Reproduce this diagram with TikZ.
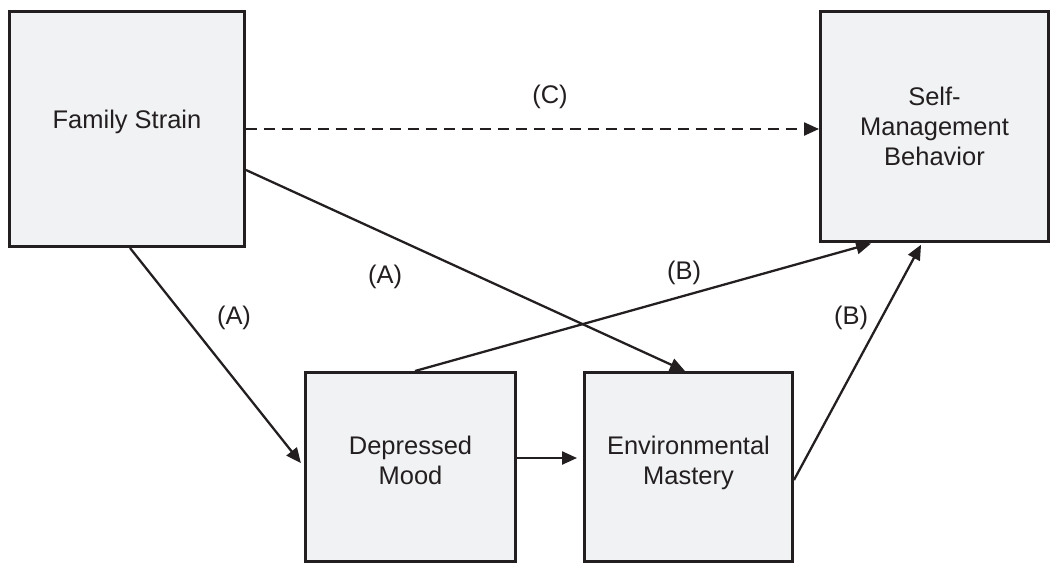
\documentclass[tikz,border=0pt]{standalone}
\usepackage{fontspec}
\setmainfont{Liberation Sans}
\usetikzlibrary{arrows.meta}
\definecolor{boxfill}{HTML}{F1F2F4}
\definecolor{boxline}{HTML}{231F20}

\begin{document}
\begin{tikzpicture}[x=0.02cm,y=-0.02cm,
  box/.style={draw=boxline,fill=boxfill,line width=1.7pt,align=center,inner sep=0pt,
    text=boxline,font=\fontsize{14.5}{17}\selectfont},
  arr/.style={draw=boxline,line width=1.3pt,-{Triangle[length=0.3cm,width=0.26cm]}},
  tag/.style={text=boxline,font=\fontsize{14.5}{17}\selectfont}]
\useasboundingbox (0,0) rectangle (1052,565);
\node[box,minimum width=4.70cm,minimum height=4.70cm,text depth=11.5pt] (fam) at (127,129) {Family Strain};
\node[box,minimum width=4.56cm,minimum height=4.60cm] (smb) at (934.5,126.5) {Self-\\Management\\Behavior};
\node[box,minimum width=4.20cm,minimum height=3.78cm,text depth=8pt] (dep) at (410.5,467) {Depressed\\Mood};
\node[box,minimum width=4.16cm,minimum height=3.78cm,text depth=8pt] (env) at (688.5,467) {Environmental\\Mastery};
\draw[arr,dash pattern=on 0.22cm off 0.14cm] (fam.east) -- (fam.east -| smb.west);
\draw[arr] ([yshift=-0.82cm]fam.east) -- ([xshift=-0.07cm]env.north);
\draw[arr,shorten >=0.1cm] ([xshift=0.06cm]fam.south) -- (dep.west);
\draw[arr,shorten >=0.12cm] ([yshift=0.18cm]dep.east) -- ([yshift=0.18cm]env.west);
\draw[arr,shorten >=0.04cm] ([xshift=0.09cm]dep.north) -- ([xshift=-1.23cm]smb.south);
\draw[arr,shorten >=0.04cm] ([yshift=-0.26cm]env.east) -- ([xshift=-0.25cm]smb.south);
\node[tag] (lc) at (550,97) {(C)};
\node[tag] (la1) at (385,277) {(A)};
\node[tag] (la2) at (234,318) {(A)};
\node[tag] (lb1) at (684,273) {(B)};
\node[tag] (lb2) at (851,318) {(B)};
\end{tikzpicture}
\end{document}
